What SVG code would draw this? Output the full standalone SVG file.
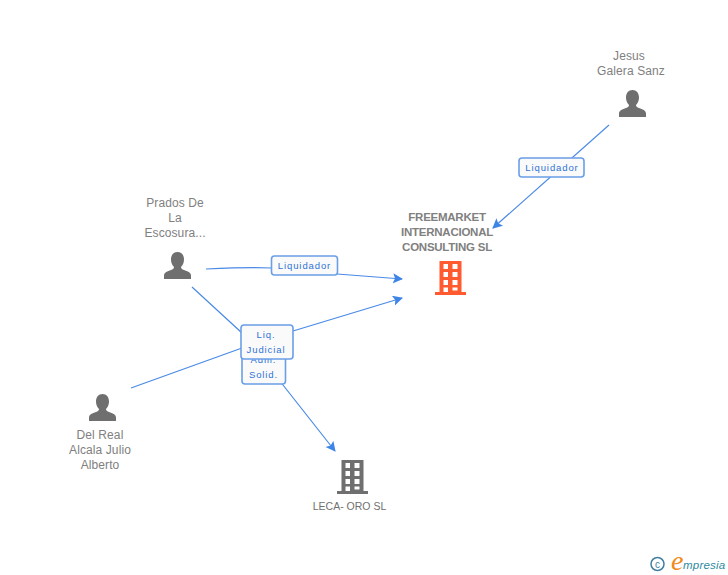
<svg xmlns="http://www.w3.org/2000/svg" width="728" height="575" viewBox="0 0 728 575">
<style>
text{font-family:"Liberation Sans",Arial,sans-serif}
.n{font-size:12px;fill:#808080;text-anchor:middle;letter-spacing:.1px}
.b{font-size:11.500px;font-weight:bold;fill:#808080;text-anchor:middle;letter-spacing:-.25px}
.s{font-size:10.500px;fill:#707070;text-anchor:middle}
.c{fill:none;stroke:#4a8ae6;stroke-width:1.200}
.l{fill:#fafafa;stroke:#6a9fe8;stroke-width:1.600}
.t{font-size:9.500px;fill:#2f73d8;text-anchor:middle;letter-spacing:.9px}
.p{fill:#6f6f6f}
</style>
<defs>
<marker id="a" markerUnits="userSpaceOnUse" markerWidth="12" markerHeight="12" refX="9" refY="5" orient="auto"><path d="M0 0L10 5L0 10L2 5Z" fill="#3f85e8"/></marker>
<path id="person" d="M0 0c4 0 6.500 3 6.500 7.500c0 3-1.200 5.500-3 7.500c0 1.500 1 2.200 3 3c3.500 1.300 7 2.300 7 5.500v3.500h-27v-3.500c0-3.200 3.500-4.200 7-5.500c2-.8 3-1.500 3-3c-1.800-2-3-4.500-3-7.500c0-4.500 2.500-7.500 6.500-7.500z"/>
<path id="bld" d="M-11 0h22v31h4.500v3h-31v-3h4.500zM-7 3v5h4.500v-5zM2 3v5h5v-5zM-7 11v5h4.500v-5zM2 11v5h5v-5zM-7 19v5h4.500v-5zM2 19v5h5v-5zM-7 26.500v4.500h4.500v-4.500zM2 26.500v3h5v-3z" fill-rule="evenodd"/>
</defs>
<g id="connectors">
<path class="c" d="M609 125L493 228" marker-end="url(#a)"/>
<path class="c" d="M206 269C228 268 250 267 272 268L337 274L402 279" marker-end="url(#a)"/>
<path class="c" d="M131 388L242 348L293 331L402 298" marker-end="url(#a)"/>
<path class="c" d="M192 287L242 333L283 385L335 451" marker-end="url(#a)"/>
</g>
<g id="node-jesus">
<text class="n" x="629" y="60">Jesus</text>
<text class="n" x="631" y="75">Galera Sanz</text>
<use href="#person" class="p" x="632.500" y="90"/>
</g>
<g id="node-prados">
<text class="n" x="175" y="207">Prados De</text>
<text class="n" x="175" y="222">La</text>
<text class="n" x="175" y="237">Escosura...</text>
<use href="#person" class="p" x="177.500" y="252"/>
</g>
<g id="node-delreal">
<use href="#person" class="p" x="102.500" y="394"/>
<text class="n" x="100" y="439">Del Real</text>
<text class="n" x="100" y="454">Alcala Julio</text>
<text class="n" x="100" y="469">Alberto</text>
</g>
<g id="node-freemarket">
<text class="b" x="447" y="221">FREEMARKET</text>
<text class="b" x="447" y="236">INTERNACIONAL</text>
<text class="b" x="447" y="251">CONSULTING SL</text>
<use href="#bld" fill="#ff5a30" x="450.500" y="261"/>
</g>
<g id="node-leca">
<use href="#bld" fill="#6f6f6f" x="352.500" y="460"/>
<text class="s" x="349.500" y="510">LECA- ORO SL</text>
</g>
<g id="label-jesus">
<rect class="l" x="519" y="158" width="65" height="19" rx="3"/>
<text class="t" x="552" y="171">Liquidador</text>
</g>
<g id="label-prados">
<rect class="l" x="271.500" y="256" width="66" height="19" rx="3"/>
<text class="t" x="304.500" y="269">Liquidador</text>
</g>
<g id="label-adm">
<rect class="l" x="242" y="350" width="43.500" height="34" rx="3"/>
<text class="t" x="263.500" y="363">Adm.</text>
<text class="t" x="263.500" y="378">Solid.</text>
</g>
<g id="label-liq">
<rect class="l" x="241" y="325" width="52" height="34" rx="3"/>
<text class="t" x="266" y="338">Liq.</text>
<text class="t" x="266" y="353">Judicial</text>
</g>
<g id="logo">
<circle cx="657.500" cy="564" r="6.500" fill="none" stroke="#3f7f9f" stroke-width="1.500"/>
<text x="657.500" y="567.500" font-size="10" fill="#3f7f9f" text-anchor="middle">c</text>
<text x="671" y="570" font-size="28" font-style="italic" fill="#f08a1d" style="font-family:'Liberation Serif',serif">e</text>
<text x="683" y="569" font-size="11.500" font-style="italic" fill="#2f8a9f" letter-spacing=".2">mpresia</text>
</g>
</svg>
